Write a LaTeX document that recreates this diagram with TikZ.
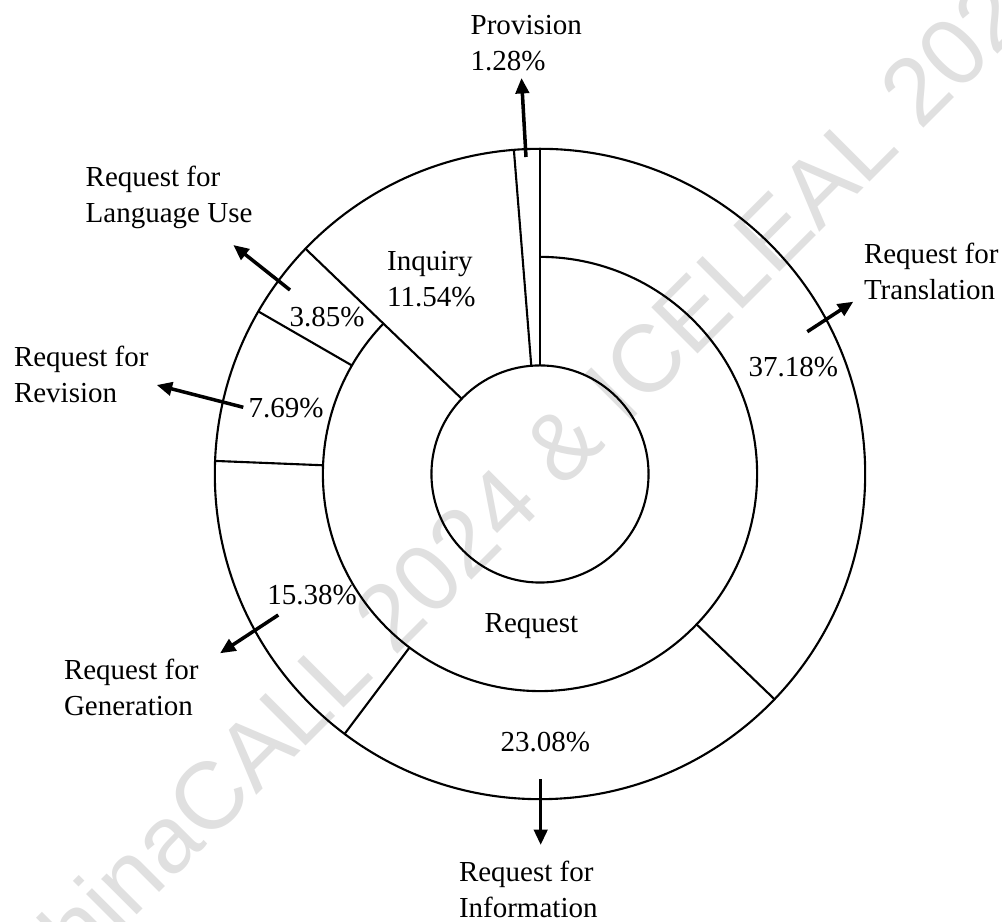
\documentclass[tikz,border=0pt]{standalone}
\usepackage{fontspec}
\setmainfont{Liberation Serif}
\newfontfamily\markfont{Liberation Sans}
\usetikzlibrary{arrows.meta}
% two-line label whose baseline is that of its first line
\newcommand\stacklabel[2]{\begin{tabular}[t]{@{}l@{}}#1\\#2\end{tabular}}
\begin{document}
\begin{tikzpicture}[x=0.01cm,y=0.01cm,
  ring/.style={line width=0.6pt},
  callout/.style={line width=1pt,-{Triangle[length=4.4pt,width=3.8pt]}},
  lbl/.style={inner sep=0pt,anchor=base west,font=\fontsize{8.25}{10.2}\selectfont},
]
\useasboundingbox[fill=white] (0,0) rectangle (1002,-922);

% faint watermark behind the chart
\begin{scope}
  \clip (0,0) rectangle (1002,-922);
  \node[rotate=45,text=black!12,inner sep=0pt,font=\markfont\fontsize{27}{27}\selectfont]
    (wm) at (527,-477) {ChinaCALL 2024 \& ICELEAL 2024};
\end{scope}

% rings
\coordinate (O) at (540,-474);
\draw[ring] (O) circle[radius=1.085cm];
\draw[ring] (O) circle[radius=3.25cm];
\draw[ring] ([shift={(136.152:2.17cm)}]O) arc[start angle=136.152,end angle=450,radius=2.17cm];

% full-depth sector borders (Provision, Inquiry)
\foreach \a in {90,94.608,136.152}
  \draw[ring] ([shift={(\a:1.085cm)}]O) -- ([shift={(\a:3.25cm)}]O);
% outer-ring borders inside Request
\foreach \a in {-43.848,-126.936,177.696,150.012}
  \draw[ring] ([shift={(\a:2.17cm)}]O) -- ([shift={(\a:3.25cm)}]O);

% labels inside the chart
\node[lbl] (inq) at (386.5,-270.8) {\stacklabel{Inquiry}{11.54\%}};
\node[lbl] (req) at (484,-633) {Request};
\node[lbl] (p385) at (288.9,-327) {3.85\%};
\node[lbl] (p769) at (248,-418) {7.69\%};
\node[lbl] (p3718) at (748,-376.7) {37.18\%};
\node[lbl] (p1538) at (266.7,-605) {15.38\%};
\node[lbl] (p2308) at (500,-751.7) {23.08\%};

% category labels outside the chart
\node[lbl] (prov) at (470,-35) {\stacklabel{Provision}{1.28\%}};
\node[lbl] (lang) at (85,-186.7) {\stacklabel{Request for}{Language Use}};
\node[lbl] (rev) at (13.3,-366.7) {\stacklabel{Request for}{Revision}};
\node[lbl] (trans) at (863.3,-263.3) {\stacklabel{Request for}{Translation}};
\node[lbl] (gen) at (63.3,-680) {\stacklabel{Request for}{Generation}};
\node[lbl] (info) at (458.3,-881.7) {\stacklabel{Request for}{Information}};

% callout arrows
\coordinate (provA) at (526,-157);   \coordinate (provB) at (521.5,-78);
\coordinate (langA) at (290,-290);   \coordinate (langB) at (233.3,-245);
\coordinate (revA) at (243.3,-407.3); \coordinate (revB) at (156.7,-385);
\coordinate (transA) at (807.3,-331.7); \coordinate (transB) at (853.3,-301.7);
\coordinate (genA) at (278.3,-615);  \coordinate (genB) at (220,-653.3);
\coordinate (infoA) at (540.7,-779.3); \coordinate (infoB) at (540.7,-845);
\draw[callout] (provA) -- (provB);
\draw[callout] (langA) -- (langB);
\draw[callout] (revA) -- (revB);
\draw[callout] (transA) -- (transB);
\draw[callout] (genA) -- (genB);
\draw[callout] (infoA) -- (infoB);
\end{tikzpicture}
\end{document}
